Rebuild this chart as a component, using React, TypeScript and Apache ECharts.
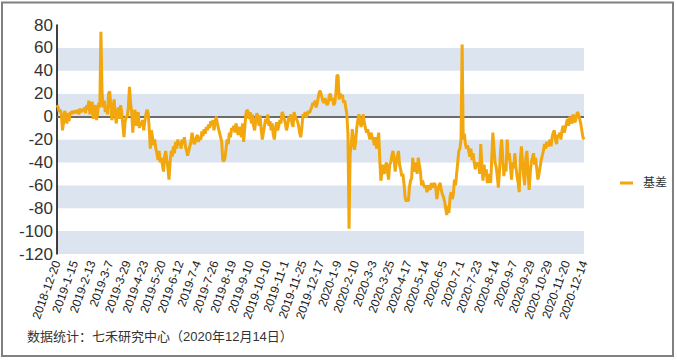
import React, { useEffect, useRef } from "react";
import * as echarts from "echarts";

// Chinese exchange holidays (weekdays closed) in the range
const holidays: string[] = [
  "2018-12-31", "2019-01-01", "2019-02-04", "2019-02-05", "2019-02-06", "2019-02-07", "2019-02-08",
  "2019-04-05", "2019-05-01", "2019-05-02", "2019-05-03", "2019-06-07", "2019-09-13",
  "2019-10-01", "2019-10-02", "2019-10-03", "2019-10-04", "2019-10-07",
  "2020-01-01", "2020-01-24", "2020-01-27", "2020-01-28", "2020-01-29", "2020-01-30", "2020-01-31",
  "2020-04-06", "2020-05-01", "2020-05-04", "2020-05-05", "2020-06-25", "2020-06-26",
  "2020-10-01", "2020-10-02", "2020-10-05", "2020-10-06", "2020-10-07", "2020-10-08",
];
const startDate = "2018-12-20";
const endDate = "2020-12-14";

// Basis values (trading days)
const basisDec18Mar19: number[] = [
  10, 8, 4, 6, 2, -12, -5, 5, 2, -6, 3, -4, 4, 2, 5, 3,
  4, 5, 3, 6, 2, 7, 4, 6, 5, 8, 3, 10, 6, 14, 2, 8,
  13, -2, 5, 10, -3, 3, 12, 8, 74, 22, 8, 14, 4, 9, 2, 20,
  22, 10, -3, 6, 15, 2, -6, 5, 8, -2, 10, 3, -8, -18, -5, 0,
];
const basisApr19Jul19: number[] = [
  0, 8, 26, 12, 4, -14, 0, 6, -8, -2, 4, -10, -5, -8, -3, -12,
  -4, 2, 6, 3, -10, -28, -12, -18, -25, -20, -28, -32, -38, -30, -40, -36,
  -42, -48, -35, -30, -38, -45, -55, -40, -30, -35, -26, -32, -22, -28, -20, -25,
  -22, -28, -20, -24, -18, -26, -30, -34, -30, -26, -22, -14, -20, -24, -22, -18,
];
const basisJul19Nov19: number[] = [
  -16, -22, -18, -20, -13, -17, -11, -15, -9, -12, -7, -10, -4, -8, -3, -12,
  -5, 0, -6, -10, -14, -18, -22, -38, -39, -36, -28, -20, -24, -14, -18, -10,
  -12, -8, -14, -6, -10, -16, -9, -13, -18, -6, -22, -10, 2, 6, 4, -2,
  4, -6, 2, -8, -12, -4, 3, 0, -8, 1, -12, -20, -14, -8, -2, -6,
];
const basisOct19Feb20: number[] = [
  2, -8, -4, -12, -6, -16, -20, -10, -5, -12, -8, -3, -6, 4, 2, -2,
  -6, -12, -8, 0, -4, 2, -6, -9, 4, 0, -2, -4, -8, -14, -18, -10,
  2, 0, 4, -1, 2, 5, 3, 6, 8, 12, 10, 14, 8, 12, 17, 22,
  22, 18, 14, 12, 16, 13, 10, 12, 18, 20, 14, 16, 10, 12, 20, 36,
  36, 15, 20, 17, 19, 12, 14, 8, 2, -15, -98, -32, -25, -11, -20, -29,
];
const basisFeb20Jun20: number[] = [
  -22, -10, -3, 2, -5, -9, -3, 2, -6, -10, -14, -11, -16, -20, -14, -18,
  -20, -25, -18, -28, -22, -14, -38, -56, -48, -42, -50, -45, -40, -48, -55, -42,
  -40, -34, -30, -36, -48, -40, -35, -30, -42, -46, -52, -50, -58, -70, -74, -72,
  -74, -62, -56, -54, -36, -44, -48, -40, -50, -36, -42, -48, -60, -56, -60, -62,
  -60, -66, -62, -60, -64, -58, -62, -60, -58, -62, -72, -64, -60, -58, -64, -68,
  -70, -74, -80, -86, -78, -84, -70, -66, -72, -68, -55, -60, -50, -40, -30, -28,
];
const basisJul20Dec20: number[] = [
  -20, 63, -20, -15, -24, -28, -25, -30, -35, -28, -38, -32, -40, -46, -40, -44,
  -40, -50, -24, -44, -56, -42, -52, -46, -58, -50, -54, -58, -36, -14, -28, -40,
  -44, -52, -62, -48, -30, -20, -36, -52, -42, -48, -20, -38, -32, -44, -55, -40,
  -45, -32, -44, -52, -58, -66, -38, -26, -40, -52, -60, -36, -30, -48, -64, -50,
  -40, -36, -32, -42, -36, -46, -55, -50, -44, -38, -34, -30, -24, -28, -22, -26,
  -24, -20, -26, -18, -14, -12, -20, -24, -16, -18, -14, -20, -12, -8, -14, -10,
  -6, -2, -8, 0, -4, -6, 2, -3, -5, 0, 4, 2, -2, -6, -12, -18,
  -20,
];

const seriesName = "基差";
const footnote = "数据统计：七禾研究中心（2020年12月14日）";

function pad(n: number) {
  return n < 10 ? "0" + n : "" + n;
}

function tradingDays(): string[] {
  const out: string[] = [];
  const hs = new Set(holidays);
  const [sy, sm, sd] = startDate.split("-").map(Number);
  const [ey, em, ed] = endDate.split("-").map(Number);
  let t = Date.UTC(sy, sm - 1, sd);
  const end = Date.UTC(ey, em - 1, ed);
  while (t <= end) {
    const d = new Date(t);
    const wd = d.getUTCDay();
    const y = d.getUTCFullYear();
    const m = d.getUTCMonth() + 1;
    const dd = d.getUTCDate();
    const key = `${y}-${pad(m)}-${pad(dd)}`;
    if (wd !== 0 && wd !== 6 && !hs.has(key)) out.push(`${y}-${m}-${dd}`);
    t += 86400000;
  }
  return out;
}

export default function App() {
  const ref = useRef<HTMLDivElement>(null);
  useEffect(() => {
    if (!ref.current) return;
    const chart = echarts.init(ref.current, undefined, { renderer: "svg" });
    const categories = tradingDays();
    const values = [
      ...basisDec18Mar19,
      ...basisApr19Jul19,
      ...basisJul19Nov19,
      ...basisOct19Feb20,
      ...basisFeb20Jun20,
      ...basisJul20Dec20,
    ];
    const font = "'Liberation Sans', Arial, 'Noto Sans CJK SC', sans-serif";
    chart.setOption({
      animation: false,
      backgroundColor: "#ffffff",
      textStyle: { fontFamily: font },
      grid: { left: 57, right: 93, top: 25, bottom: 106, containLabel: false },
      legend: {
        data: [seriesName],
        left: 615,
        top: 172,
        icon: "rect",
        itemWidth: 13,
        itemHeight: 3,
        itemGap: 8,
        textStyle: { fontSize: 12, color: "#333333", fontFamily: font, padding: [0, 0, 0, 5] },
      },
      xAxis: {
        type: "category",
        data: categories,
        boundaryGap: false,
        axisLine: { show: false, onZero: false },
        axisTick: { show: false },
        splitLine: { show: false },
        axisLabel: {
          interval: 15,
          rotate: 70,
          fontSize: 12,
          color: "#1a1a1a",
          margin: 7,
          fontFamily: font,
        },
      },
      yAxis: {
        type: "value",
        min: -120,
        max: 80,
        interval: 20,
        axisLine: { show: true, lineStyle: { color: "#000000", width: 1.5 } },
        axisTick: { show: false },
        splitLine: { show: false },
        splitArea: { show: true, areaStyle: { color: ["#dbe4ef", "#ffffff"] } },
        axisLabel: { fontSize: 17, color: "#333333", margin: 4, fontFamily: font },
      },
      series: [
        {
          name: seriesName,
          type: "line",
          data: values,
          symbol: "none",
          showSymbol: false,
          lineStyle: { color: "#f2a70e", width: 3 },
          itemStyle: { color: "#f2a70e" },
          markLine: {
            silent: true,
            symbol: "none",
            label: { show: false },
            lineStyle: { color: "#6b6b6b", width: 2, type: "solid" },
            data: [{ yAxis: 0 }],
            z: 1,
          },
          z: 3,
        },
      ],
      graphic: [
        {
          type: "rect",
          shape: { x: 2, y: 2.5, width: 671, height: 353.5 },
          style: { fill: "none", stroke: "#808080", lineWidth: 2 },
          silent: true,
          z: 100,
        },
        {
          type: "text",
          left: 27,
          top: 330,
          style: {
            text: footnote,
            fontSize: 13,
            fill: "#333333",
            fontFamily: font,
          },
        },
      ],
    });
    return () => chart.dispose();
  }, []);
  return (
    <div
      ref={ref}
      style={{ position: "fixed", left: 0, top: 0, width: 677, height: 360 }}
    />
  );
}
